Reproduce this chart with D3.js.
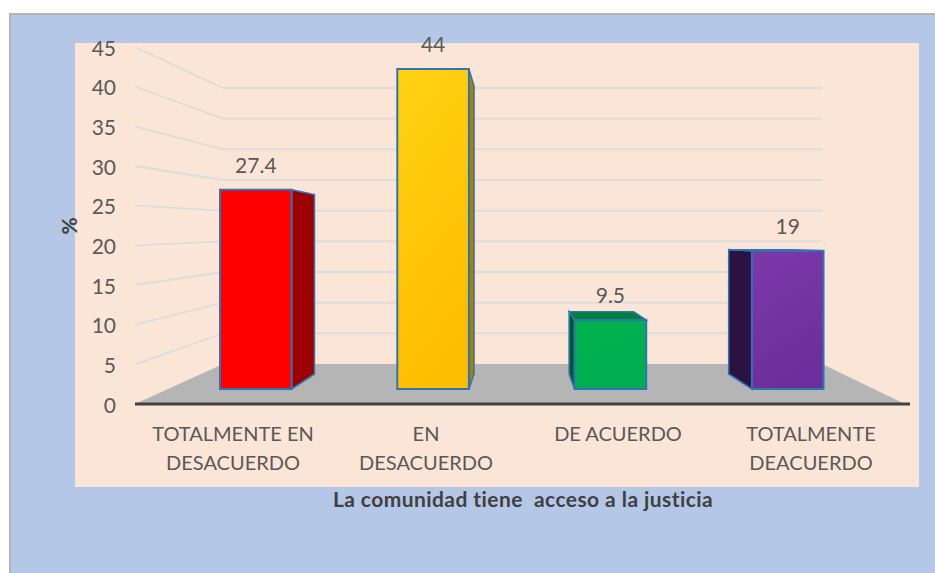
<!DOCTYPE html>
<html><head><meta charset="utf-8">
<script src="https://cdn.jsdelivr.net/npm/d3@7/dist/d3.min.js"></script>
<style>html,body{margin:0;padding:0;background:#fff}svg{display:block}text{font-family:Lato,"Open Sans",sans-serif}</style>
</head><body><div id="c"></div>
<script>
const categories = [["TOTALMENTE EN","DESACUERDO"],["EN","DESACUERDO"],["DE ACUERDO"],["TOTALMENTE","DEACUERDO"]];
const values = [27.4,44,9.5,19];
const frontTop = ["#ff0000","#ffd214","#00b34f","#7b39a8"];
const frontBottom = ["#ff0000","#ffbd00","#00ae50","#6d2f9c"];
const sideColors = ["#9e0000","#a88000","#00592d","#2b1241"];
const topColors = ["#b00000","#b08800","#008039","#46309a"];
const yTicks = [0,5,10,15,20,25,30,35,40,45];
const xTitle = "La comunidad tiene  acceso a la justicia";
const yTitle = "%";

const W=935,H=573;
const svg=d3.select("#c").append("svg").attr("width",W).attr("height",H);
const defs=svg.append("defs");

// frame and panels
svg.append("rect").attr("x",9).attr("y",13).attr("width",W-9).attr("height",H-13).attr("fill","#b3b3b3");
svg.append("rect").attr("x",11).attr("y",15).attr("width",W-11).attr("height",H-15).attr("fill","#b4c7e7");
svg.append("rect").attr("x",75).attr("y",43).attr("width",844).attr("height",444).attr("fill","#fbe5d6");

// scales: front plane of the axis, back wall, bar faces
const yFront=d3.scaleLinear().domain([0,45]).range([404,47]);
const yBack=d3.scaleLinear().domain([0,45]).range([364,88]);
const xFront=d3.scaleLinear().domain([0,1]).range([135,905]);
const xBack=d3.scaleLinear().domain([0,1]).range([223,822]);
const xBar=d3.scaleBand().domain(d3.range(values.length)).range([220,823.5]).paddingInner(0.596).paddingOuter(0);
const yBar=d3.scaleLinear().domain([0,44]).range([389,69]);
const vp=[520,239], depth=0.9;
const back=(x,y)=>[vp[0]+(x-vp[0])*depth, vp[1]+(y-vp[1])*depth];

// floor
svg.append("polygon").attr("fill","#b5b5b5")
  .attr("points",[[xFront(0),yFront(0)],[xBack(0),yBack(0)],[xBack(1),yBack(0)],[xFront(1),yFront(0)]].join(" "));

// gridlines
svg.append("g").selectAll("polyline").data(yTicks.filter(d=>d>0)).join("polyline")
  .attr("fill","none").attr("stroke","#dcdcdc").attr("stroke-width",1.8)
  .attr("points",d=>[[xFront(0),yFront(d)],[xBack(0),yBack(d)],[xBack(1),yBack(d)]].join(" "));

// axis line
svg.append("line").attr("x1",135).attr("x2",910).attr("y1",yFront(0)).attr("y2",yFront(0))
  .attr("stroke","#404040").attr("stroke-width",3);

// y axis labels
const ax=svg.append("g").attr("transform","translate(116,1.5)")
  .call(d3.axisLeft(yFront).tickValues(yTicks).tickSize(0).tickPadding(0));
ax.select(".domain").remove();
ax.selectAll("text").attr("font-size",21).attr("fill","#595959").style("font-family","Lato");

// bars
const edge="#2e75b6";
values.forEach((v,i)=>{
  const g=svg.append("g");
  const x0=xBar(i), x1=x0+xBar.bandwidth(), yt=yBar(v), yb=yBar(0);
  const id="g"+i;
  const lg=defs.append("linearGradient").attr("id",id).attr("x1",0).attr("y1",0).attr("x2",0.3).attr("y2",1);
  lg.append("stop").attr("offset",0).attr("stop-color",frontTop[i]);
  lg.append("stop").attr("offset",1).attr("stop-color",frontBottom[i]);
  const sx = x1<vp[0] ? x1 : x0;
  g.append("polygon").attr("fill",sideColors[i]).attr("stroke",edge).attr("stroke-width",1.5)
    .attr("points",[[sx,yt],back(sx,yt),back(sx,yb),[sx,yb]].join(" "));
  if(yt>vp[1]){
    g.append("polygon").attr("fill",topColors[i]).attr("stroke",edge).attr("stroke-width",1.5)
      .attr("points",[[x0,yt],back(x0,yt),back(x1,yt),[x1,yt]].join(" "));
  }
  g.append("rect").attr("x",x0).attr("y",yt).attr("width",x1-x0).attr("height",yb-yt)
    .attr("fill",`url(#${id})`).attr("stroke",edge).attr("stroke-width",2);
  svg.append("text").attr("x",(x0+x1)/2).attr("y",yt-17).attr("text-anchor","middle")
    .attr("font-size",21).attr("fill","#595959").text(v);
});

// category labels
const catX=[233,426,618,811];
categories.forEach((lines,i)=>{
  const t=svg.append("text").attr("text-anchor","middle").attr("font-size",20).attr("fill","#595959");
  lines.forEach((s,j)=>t.append("tspan").attr("x",catX[i]).attr("y",441+j*29).text(s));
});

// titles
svg.append("text").attr("x",523).attr("y",507).attr("text-anchor","middle").attr("font-size",21)
  .attr("letter-spacing",0.43).attr("font-weight",700).attr("fill","#404040").style("white-space","pre").text(xTitle);
svg.append("text").attr("transform","translate(77,226) rotate(-90)").attr("text-anchor","middle")
  .attr("font-size",21).attr("font-weight",700).attr("fill","#404040").text(yTitle);
</script></body></html>
